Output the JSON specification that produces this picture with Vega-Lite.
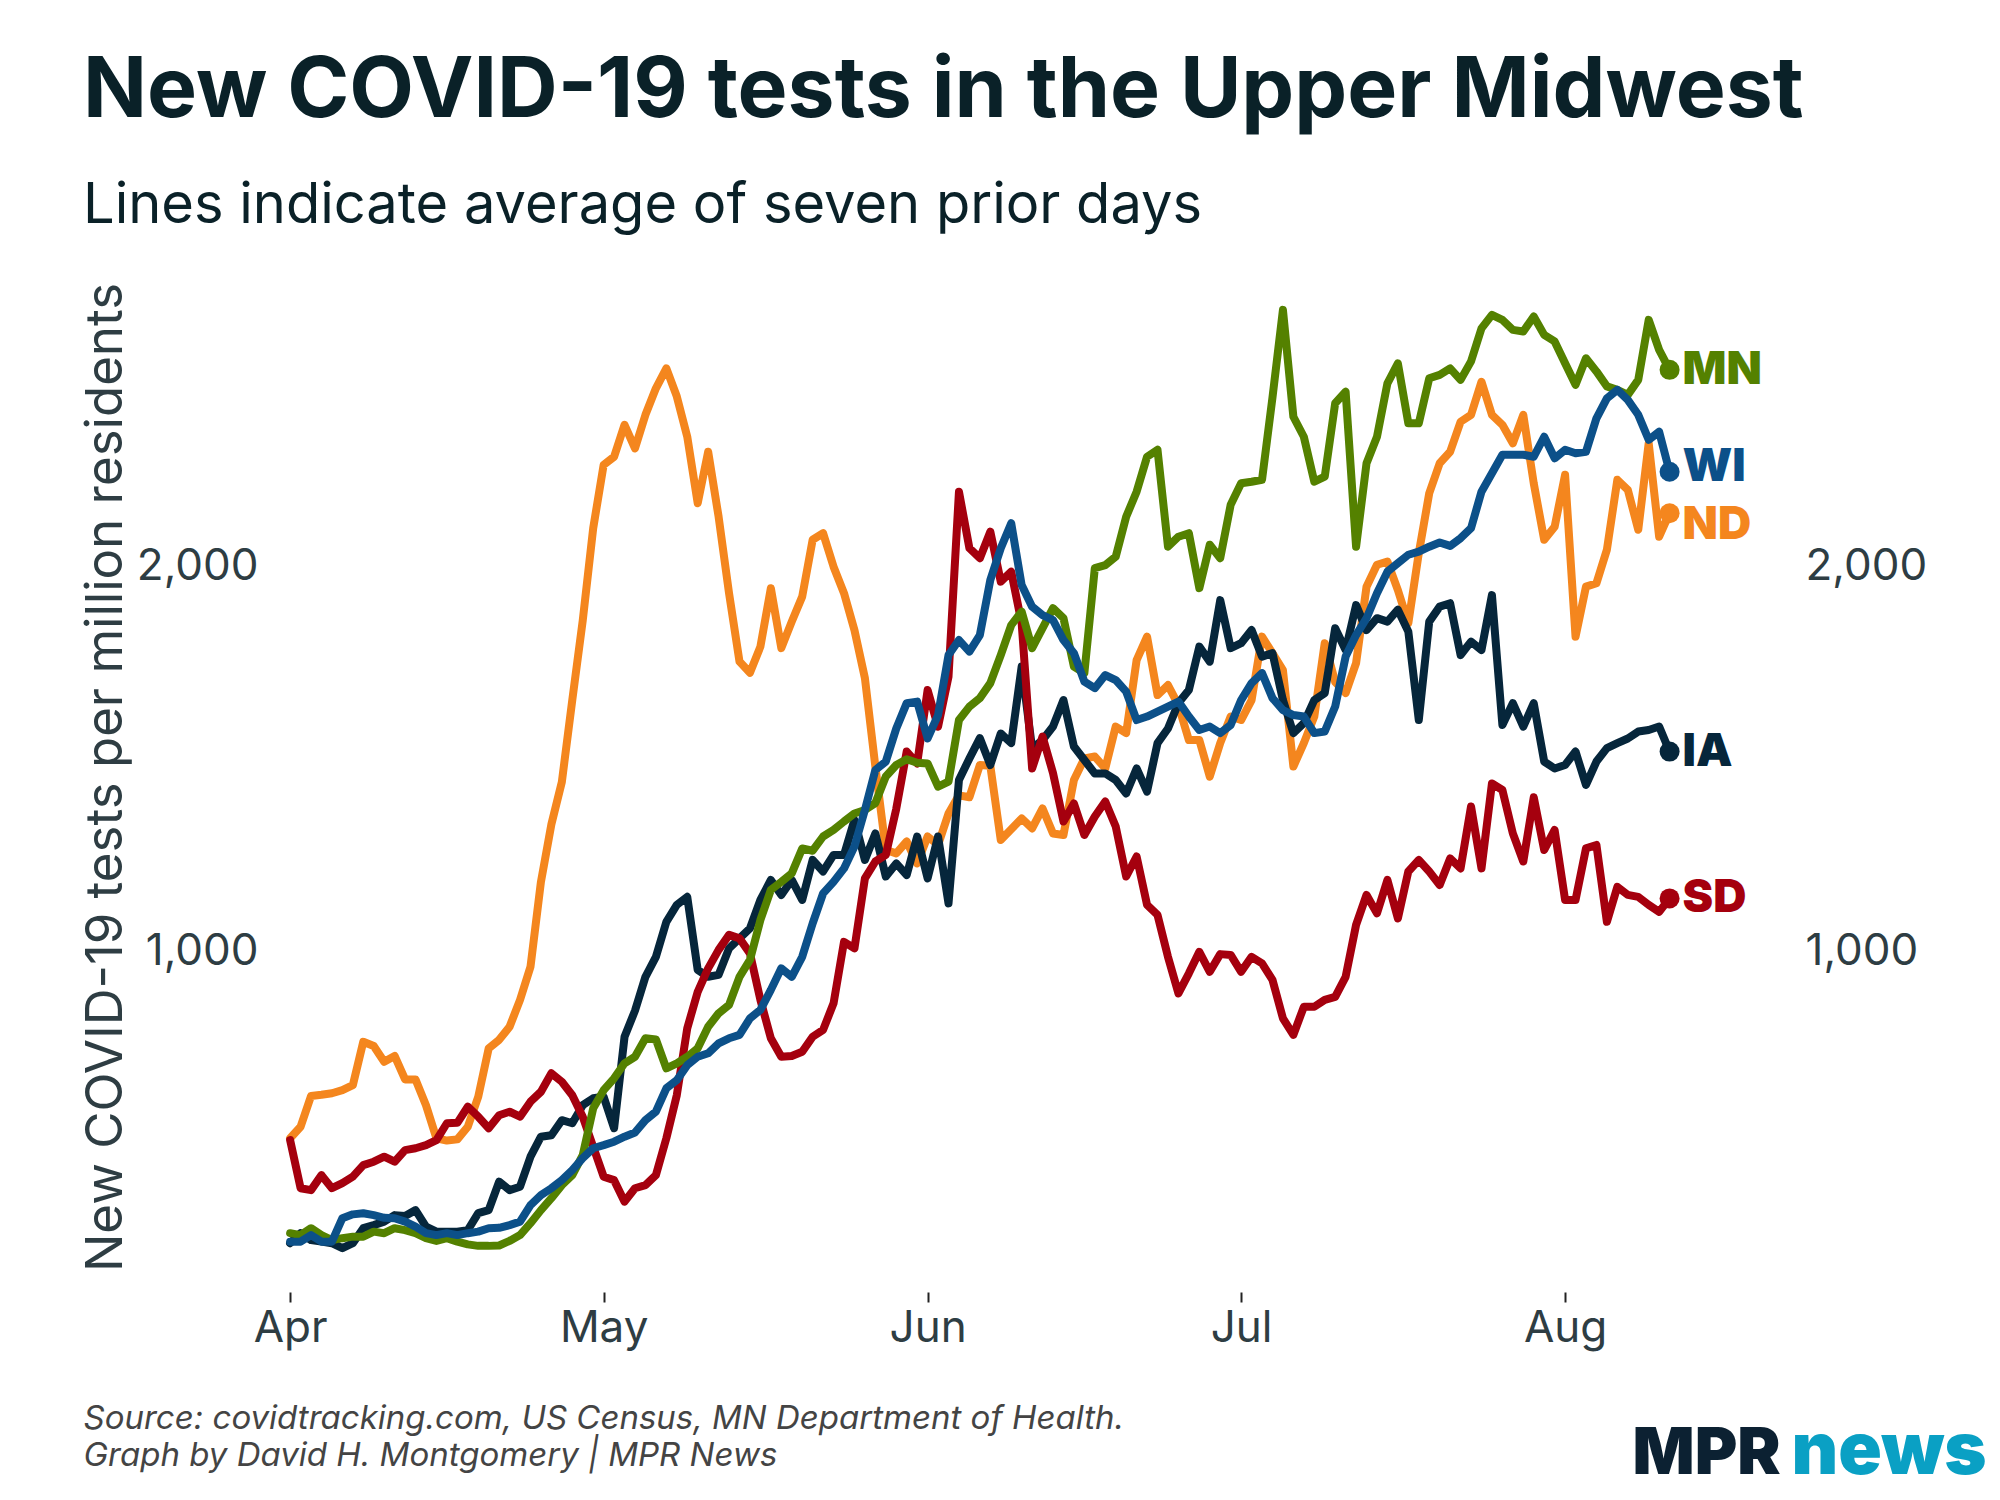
{
"$schema": "https://vega.github.io/schema/vega-lite/v6.json",
"width": 1531, "height": 1029,
"autosize": {"type": "none"},
"padding": {"left": 264, "top": 263, "right": 205, "bottom": 208},
"background": "white",
"config": {"view": {"stroke": null}, "font": "Inter", "axis": {"grid": false, "domain": false}},
"title": {"text": "New COVID-19 tests in the Upper Midwest", "subtitle": "Lines indicate average of seven prior days", "anchor": "start", "frame": "group", "dx": -181, "offset": 28, "font": "Inter", "fontSize": 84, "fontWeight": 700, "color": "#0a2128", "subtitleFont": "Inter", "subtitleFontSize": 56, "subtitleFontWeight": 400, "subtitleColor": "#0a2128", "subtitlePadding": 44},
"data": {"values": [
{"s":"ND","d":"2020-04-01","v":513},{"s":"ND","d":"2020-04-02","v":543},{"s":"ND","d":"2020-04-03","v":623},{"s":"ND","d":"2020-04-04","v":626},{"s":"ND","d":"2020-04-05","v":630},{"s":"ND","d":"2020-04-06","v":638},{"s":"ND","d":"2020-04-07","v":651},{"s":"ND","d":"2020-04-08","v":764},{"s":"ND","d":"2020-04-09","v":753},{"s":"ND","d":"2020-04-10","v":712},
{"s":"ND","d":"2020-04-11","v":727},{"s":"ND","d":"2020-04-12","v":666},{"s":"ND","d":"2020-04-13","v":666},{"s":"ND","d":"2020-04-14","v":599},{"s":"ND","d":"2020-04-15","v":513},{"s":"ND","d":"2020-04-16","v":507},{"s":"ND","d":"2020-04-17","v":510},{"s":"ND","d":"2020-04-18","v":543},{"s":"ND","d":"2020-04-19","v":621},{"s":"ND","d":"2020-04-20","v":747},
{"s":"ND","d":"2020-04-21","v":769},{"s":"ND","d":"2020-04-22","v":803},{"s":"ND","d":"2020-04-23","v":873},{"s":"ND","d":"2020-04-24","v":959},{"s":"ND","d":"2020-04-25","v":1180},{"s":"ND","d":"2020-04-26","v":1330},{"s":"ND","d":"2020-04-27","v":1440},{"s":"ND","d":"2020-04-28","v":1653},{"s":"ND","d":"2020-04-29","v":1860},{"s":"ND","d":"2020-04-30","v":2100},
{"s":"ND","d":"2020-05-01","v":2265},{"s":"ND","d":"2020-05-02","v":2286},{"s":"ND","d":"2020-05-03","v":2369},{"s":"ND","d":"2020-05-04","v":2308},{"s":"ND","d":"2020-05-05","v":2395},{"s":"ND","d":"2020-05-06","v":2464},{"s":"ND","d":"2020-05-07","v":2516},{"s":"ND","d":"2020-05-08","v":2443},{"s":"ND","d":"2020-05-09","v":2338},{"s":"ND","d":"2020-05-10","v":2165},
{"s":"ND","d":"2020-05-11","v":2299},{"s":"ND","d":"2020-05-12","v":2130},{"s":"ND","d":"2020-05-13","v":1931},{"s":"ND","d":"2020-05-14","v":1753},{"s":"ND","d":"2020-05-15","v":1724},{"s":"ND","d":"2020-05-16","v":1792},{"s":"ND","d":"2020-05-17","v":1944},{"s":"ND","d":"2020-05-18","v":1788},{"s":"ND","d":"2020-05-19","v":1857},{"s":"ND","d":"2020-05-20","v":1922},
{"s":"ND","d":"2020-05-21","v":2070},{"s":"ND","d":"2020-05-22","v":2087},{"s":"ND","d":"2020-05-23","v":2000},{"s":"ND","d":"2020-05-24","v":1931},{"s":"ND","d":"2020-05-25","v":1835},{"s":"ND","d":"2020-05-26","v":1710},{"s":"ND","d":"2020-05-27","v":1480},{"s":"ND","d":"2020-05-28","v":1263},{"s":"ND","d":"2020-05-29","v":1254},{"s":"ND","d":"2020-05-30","v":1285},
{"s":"ND","d":"2020-05-31","v":1228},{"s":"ND","d":"2020-06-01","v":1298},{"s":"ND","d":"2020-06-02","v":1276},{"s":"ND","d":"2020-06-03","v":1358},{"s":"ND","d":"2020-06-04","v":1405},{"s":"ND","d":"2020-06-05","v":1400},{"s":"ND","d":"2020-06-06","v":1484},{"s":"ND","d":"2020-06-07","v":1482},{"s":"ND","d":"2020-06-08","v":1289},{"s":"ND","d":"2020-06-09","v":1317},
{"s":"ND","d":"2020-06-10","v":1345},{"s":"ND","d":"2020-06-11","v":1319},{"s":"ND","d":"2020-06-12","v":1371},{"s":"ND","d":"2020-06-13","v":1306},{"s":"ND","d":"2020-06-14","v":1302},{"s":"ND","d":"2020-06-15","v":1445},{"s":"ND","d":"2020-06-16","v":1501},{"s":"ND","d":"2020-06-17","v":1506},{"s":"ND","d":"2020-06-18","v":1475},{"s":"ND","d":"2020-06-19","v":1584},
{"s":"ND","d":"2020-06-20","v":1567},{"s":"ND","d":"2020-06-21","v":1757},{"s":"ND","d":"2020-06-22","v":1818},{"s":"ND","d":"2020-06-23","v":1666},{"s":"ND","d":"2020-06-24","v":1692},{"s":"ND","d":"2020-06-25","v":1640},{"s":"ND","d":"2020-06-26","v":1549},{"s":"ND","d":"2020-06-27","v":1549},{"s":"ND","d":"2020-06-28","v":1454},{"s":"ND","d":"2020-06-29","v":1541},
{"s":"ND","d":"2020-06-30","v":1610},{"s":"ND","d":"2020-07-01","v":1601},{"s":"ND","d":"2020-07-02","v":1653},{"s":"ND","d":"2020-07-03","v":1818},{"s":"ND","d":"2020-07-04","v":1775},{"s":"ND","d":"2020-07-05","v":1731},{"s":"ND","d":"2020-07-06","v":1480},{"s":"ND","d":"2020-07-07","v":1541},{"s":"ND","d":"2020-07-08","v":1610},{"s":"ND","d":"2020-07-09","v":1801},
{"s":"ND","d":"2020-07-10","v":1700},{"s":"ND","d":"2020-07-11","v":1671},{"s":"ND","d":"2020-07-12","v":1749},{"s":"ND","d":"2020-07-13","v":1948},{"s":"ND","d":"2020-07-14","v":2005},{"s":"ND","d":"2020-07-15","v":2013},{"s":"ND","d":"2020-07-16","v":1939},{"s":"ND","d":"2020-07-17","v":1853},{"s":"ND","d":"2020-07-18","v":2035},{"s":"ND","d":"2020-07-19","v":2191},
{"s":"ND","d":"2020-07-20","v":2269},{"s":"ND","d":"2020-07-21","v":2299},{"s":"ND","d":"2020-07-22","v":2377},{"s":"ND","d":"2020-07-23","v":2395},{"s":"ND","d":"2020-07-24","v":2481},{"s":"ND","d":"2020-07-25","v":2395},{"s":"ND","d":"2020-07-26","v":2369},{"s":"ND","d":"2020-07-27","v":2321},{"s":"ND","d":"2020-07-28","v":2395},{"s":"ND","d":"2020-07-29","v":2217},
{"s":"ND","d":"2020-07-30","v":2070},{"s":"ND","d":"2020-07-31","v":2104},{"s":"ND","d":"2020-08-01","v":2239},{"s":"ND","d":"2020-08-02","v":1818},{"s":"ND","d":"2020-08-03","v":1948},{"s":"ND","d":"2020-08-04","v":1957},{"s":"ND","d":"2020-08-05","v":2044},{"s":"ND","d":"2020-08-06","v":2226},{"s":"ND","d":"2020-08-07","v":2200},{"s":"ND","d":"2020-08-08","v":2096},
{"s":"ND","d":"2020-08-09","v":2321},{"s":"ND","d":"2020-08-10","v":2078},{"s":"ND","d":"2020-08-11","v":2139},
{"s":"IA","d":"2020-04-01","v":240},{"s":"IA","d":"2020-04-02","v":266},{"s":"IA","d":"2020-04-03","v":248},{"s":"IA","d":"2020-04-04","v":244},{"s":"IA","d":"2020-04-05","v":240},{"s":"IA","d":"2020-04-06","v":227},{"s":"IA","d":"2020-04-07","v":240},{"s":"IA","d":"2020-04-08","v":279},{"s":"IA","d":"2020-04-09","v":287},{"s":"IA","d":"2020-04-10","v":296},
{"s":"IA","d":"2020-04-11","v":313},{"s":"IA","d":"2020-04-12","v":311},{"s":"IA","d":"2020-04-13","v":326},{"s":"IA","d":"2020-04-14","v":283},{"s":"IA","d":"2020-04-15","v":270},{"s":"IA","d":"2020-04-16","v":270},{"s":"IA","d":"2020-04-17","v":270},{"s":"IA","d":"2020-04-18","v":274},{"s":"IA","d":"2020-04-19","v":318},{"s":"IA","d":"2020-04-20","v":326},
{"s":"IA","d":"2020-04-21","v":400},{"s":"IA","d":"2020-04-22","v":378},{"s":"IA","d":"2020-04-23","v":387},{"s":"IA","d":"2020-04-24","v":465},{"s":"IA","d":"2020-04-25","v":517},{"s":"IA","d":"2020-04-26","v":521},{"s":"IA","d":"2020-04-27","v":560},{"s":"IA","d":"2020-04-28","v":552},{"s":"IA","d":"2020-04-29","v":599},{"s":"IA","d":"2020-04-30","v":617},
{"s":"IA","d":"2020-05-01","v":621},{"s":"IA","d":"2020-05-02","v":539},{"s":"IA","d":"2020-05-03","v":777},{"s":"IA","d":"2020-05-04","v":845},{"s":"IA","d":"2020-05-05","v":933},{"s":"IA","d":"2020-05-06","v":985},{"s":"IA","d":"2020-05-07","v":1076},{"s":"IA","d":"2020-05-08","v":1120},{"s":"IA","d":"2020-05-09","v":1141},{"s":"IA","d":"2020-05-10","v":951},
{"s":"IA","d":"2020-05-11","v":933},{"s":"IA","d":"2020-05-12","v":938},{"s":"IA","d":"2020-05-13","v":1007},{"s":"IA","d":"2020-05-14","v":1033},{"s":"IA","d":"2020-05-15","v":1059},{"s":"IA","d":"2020-05-16","v":1133},{"s":"IA","d":"2020-05-17","v":1185},{"s":"IA","d":"2020-05-18","v":1146},{"s":"IA","d":"2020-05-19","v":1185},{"s":"IA","d":"2020-05-20","v":1133},
{"s":"IA","d":"2020-05-21","v":1237},{"s":"IA","d":"2020-05-22","v":1207},{"s":"IA","d":"2020-05-23","v":1250},{"s":"IA","d":"2020-05-24","v":1250},{"s":"IA","d":"2020-05-25","v":1341},{"s":"IA","d":"2020-05-26","v":1237},{"s":"IA","d":"2020-05-27","v":1306},{"s":"IA","d":"2020-05-28","v":1194},{"s":"IA","d":"2020-05-29","v":1228},{"s":"IA","d":"2020-05-30","v":1198},
{"s":"IA","d":"2020-05-31","v":1298},{"s":"IA","d":"2020-06-01","v":1189},{"s":"IA","d":"2020-06-02","v":1298},{"s":"IA","d":"2020-06-03","v":1124},{"s":"IA","d":"2020-06-04","v":1445},{"s":"IA","d":"2020-06-05","v":1501},{"s":"IA","d":"2020-06-06","v":1554},{"s":"IA","d":"2020-06-07","v":1484},{"s":"IA","d":"2020-06-08","v":1566},{"s":"IA","d":"2020-06-09","v":1541},
{"s":"IA","d":"2020-06-10","v":1740},{"s":"IA","d":"2020-06-11","v":1527},{"s":"IA","d":"2020-06-12","v":1549},{"s":"IA","d":"2020-06-13","v":1584},{"s":"IA","d":"2020-06-14","v":1653},{"s":"IA","d":"2020-06-15","v":1532},{"s":"IA","d":"2020-06-16","v":1497},{"s":"IA","d":"2020-06-17","v":1462},{"s":"IA","d":"2020-06-18","v":1462},{"s":"IA","d":"2020-06-19","v":1445},
{"s":"IA","d":"2020-06-20","v":1410},{"s":"IA","d":"2020-06-21","v":1475},{"s":"IA","d":"2020-06-22","v":1415},{"s":"IA","d":"2020-06-23","v":1541},{"s":"IA","d":"2020-06-24","v":1579},{"s":"IA","d":"2020-06-25","v":1645},{"s":"IA","d":"2020-06-26","v":1679},{"s":"IA","d":"2020-06-27","v":1792},{"s":"IA","d":"2020-06-28","v":1753},{"s":"IA","d":"2020-06-29","v":1913},
{"s":"IA","d":"2020-06-30","v":1788},{"s":"IA","d":"2020-07-01","v":1801},{"s":"IA","d":"2020-07-02","v":1835},{"s":"IA","d":"2020-07-03","v":1766},{"s":"IA","d":"2020-07-04","v":1775},{"s":"IA","d":"2020-07-05","v":1653},{"s":"IA","d":"2020-07-06","v":1567},{"s":"IA","d":"2020-07-07","v":1593},{"s":"IA","d":"2020-07-08","v":1653},{"s":"IA","d":"2020-07-09","v":1671},
{"s":"IA","d":"2020-07-10","v":1840},{"s":"IA","d":"2020-07-11","v":1783},{"s":"IA","d":"2020-07-12","v":1900},{"s":"IA","d":"2020-07-13","v":1835},{"s":"IA","d":"2020-07-14","v":1866},{"s":"IA","d":"2020-07-15","v":1857},{"s":"IA","d":"2020-07-16","v":1888},{"s":"IA","d":"2020-07-17","v":1831},{"s":"IA","d":"2020-07-18","v":1601},{"s":"IA","d":"2020-07-19","v":1857},
{"s":"IA","d":"2020-07-20","v":1896},{"s":"IA","d":"2020-07-21","v":1905},{"s":"IA","d":"2020-07-22","v":1770},{"s":"IA","d":"2020-07-23","v":1805},{"s":"IA","d":"2020-07-24","v":1783},{"s":"IA","d":"2020-07-25","v":1926},{"s":"IA","d":"2020-07-26","v":1588},{"s":"IA","d":"2020-07-27","v":1645},{"s":"IA","d":"2020-07-28","v":1584},{"s":"IA","d":"2020-07-29","v":1645},
{"s":"IA","d":"2020-07-30","v":1493},{"s":"IA","d":"2020-07-31","v":1475},{"s":"IA","d":"2020-08-01","v":1484},{"s":"IA","d":"2020-08-02","v":1519},{"s":"IA","d":"2020-08-03","v":1432},{"s":"IA","d":"2020-08-04","v":1493},{"s":"IA","d":"2020-08-05","v":1528},{"s":"IA","d":"2020-08-06","v":1541},{"s":"IA","d":"2020-08-07","v":1553},{"s":"IA","d":"2020-08-08","v":1571},
{"s":"IA","d":"2020-08-09","v":1575},{"s":"IA","d":"2020-08-10","v":1584},{"s":"IA","d":"2020-08-11","v":1519},
{"s":"SD","d":"2020-04-01","v":508},{"s":"SD","d":"2020-04-02","v":383},{"s":"SD","d":"2020-04-03","v":378},{"s":"SD","d":"2020-04-04","v":417},{"s":"SD","d":"2020-04-05","v":383},{"s":"SD","d":"2020-04-06","v":396},{"s":"SD","d":"2020-04-07","v":413},{"s":"SD","d":"2020-04-08","v":443},{"s":"SD","d":"2020-04-09","v":452},{"s":"SD","d":"2020-04-10","v":465},
{"s":"SD","d":"2020-04-11","v":452},{"s":"SD","d":"2020-04-12","v":482},{"s":"SD","d":"2020-04-13","v":487},{"s":"SD","d":"2020-04-14","v":495},{"s":"SD","d":"2020-04-15","v":508},{"s":"SD","d":"2020-04-16","v":552},{"s":"SD","d":"2020-04-17","v":553},{"s":"SD","d":"2020-04-18","v":595},{"s":"SD","d":"2020-04-19","v":569},{"s":"SD","d":"2020-04-20","v":539},
{"s":"SD","d":"2020-04-21","v":573},{"s":"SD","d":"2020-04-22","v":582},{"s":"SD","d":"2020-04-23","v":569},{"s":"SD","d":"2020-04-24","v":608},{"s":"SD","d":"2020-04-25","v":634},{"s":"SD","d":"2020-04-26","v":682},{"s":"SD","d":"2020-04-27","v":660},{"s":"SD","d":"2020-04-28","v":625},{"s":"SD","d":"2020-04-29","v":569},{"s":"SD","d":"2020-04-30","v":491},
{"s":"SD","d":"2020-05-01","v":413},{"s":"SD","d":"2020-05-02","v":404},{"s":"SD","d":"2020-05-03","v":348},{"s":"SD","d":"2020-05-04","v":383},{"s":"SD","d":"2020-05-05","v":391},{"s":"SD","d":"2020-05-06","v":417},{"s":"SD","d":"2020-05-07","v":513},{"s":"SD","d":"2020-05-08","v":625},{"s":"SD","d":"2020-05-09","v":799},{"s":"SD","d":"2020-05-10","v":894},
{"s":"SD","d":"2020-05-11","v":955},{"s":"SD","d":"2020-05-12","v":1003},{"s":"SD","d":"2020-05-13","v":1042},{"s":"SD","d":"2020-05-14","v":1033},{"s":"SD","d":"2020-05-15","v":994},{"s":"SD","d":"2020-05-16","v":873},{"s":"SD","d":"2020-05-17","v":773},{"s":"SD","d":"2020-05-18","v":725},{"s":"SD","d":"2020-05-19","v":727},{"s":"SD","d":"2020-05-20","v":738},
{"s":"SD","d":"2020-05-21","v":777},{"s":"SD","d":"2020-05-22","v":795},{"s":"SD","d":"2020-05-23","v":864},{"s":"SD","d":"2020-05-24","v":1024},{"s":"SD","d":"2020-05-25","v":1007},{"s":"SD","d":"2020-05-26","v":1189},{"s":"SD","d":"2020-05-27","v":1233},{"s":"SD","d":"2020-05-28","v":1250},{"s":"SD","d":"2020-05-29","v":1370},{"s":"SD","d":"2020-05-30","v":1519},
{"s":"SD","d":"2020-05-31","v":1488},{"s":"SD","d":"2020-06-01","v":1679},{"s":"SD","d":"2020-06-02","v":1584},{"s":"SD","d":"2020-06-03","v":1714},{"s":"SD","d":"2020-06-04","v":2195},{"s":"SD","d":"2020-06-05","v":2048},{"s":"SD","d":"2020-06-06","v":2022},{"s":"SD","d":"2020-06-07","v":2091},{"s":"SD","d":"2020-06-08","v":1961},{"s":"SD","d":"2020-06-09","v":1987},
{"s":"SD","d":"2020-06-10","v":1853},{"s":"SD","d":"2020-06-11","v":1475},{"s":"SD","d":"2020-06-12","v":1558},{"s":"SD","d":"2020-06-13","v":1463},{"s":"SD","d":"2020-06-14","v":1337},{"s":"SD","d":"2020-06-15","v":1384},{"s":"SD","d":"2020-06-16","v":1302},{"s":"SD","d":"2020-06-17","v":1350},{"s":"SD","d":"2020-06-18","v":1389},{"s":"SD","d":"2020-06-19","v":1324},
{"s":"SD","d":"2020-06-20","v":1194},{"s":"SD","d":"2020-06-21","v":1246},{"s":"SD","d":"2020-06-22","v":1120},{"s":"SD","d":"2020-06-23","v":1094},{"s":"SD","d":"2020-06-24","v":985},{"s":"SD","d":"2020-06-25","v":890},{"s":"SD","d":"2020-06-26","v":942},{"s":"SD","d":"2020-06-27","v":998},{"s":"SD","d":"2020-06-28","v":946},{"s":"SD","d":"2020-06-29","v":992},
{"s":"SD","d":"2020-06-30","v":990},{"s":"SD","d":"2020-07-01","v":946},{"s":"SD","d":"2020-07-02","v":985},{"s":"SD","d":"2020-07-03","v":968},{"s":"SD","d":"2020-07-04","v":925},{"s":"SD","d":"2020-07-05","v":825},{"s":"SD","d":"2020-07-06","v":782},{"s":"SD","d":"2020-07-07","v":855},{"s":"SD","d":"2020-07-08","v":855},{"s":"SD","d":"2020-07-09","v":873},
{"s":"SD","d":"2020-07-10","v":881},{"s":"SD","d":"2020-07-11","v":933},{"s":"SD","d":"2020-07-12","v":1068},{"s":"SD","d":"2020-07-13","v":1146},{"s":"SD","d":"2020-07-14","v":1098},{"s":"SD","d":"2020-07-15","v":1185},{"s":"SD","d":"2020-07-16","v":1085},{"s":"SD","d":"2020-07-17","v":1207},{"s":"SD","d":"2020-07-18","v":1237},{"s":"SD","d":"2020-07-19","v":1207},
{"s":"SD","d":"2020-07-20","v":1172},{"s":"SD","d":"2020-07-21","v":1241},{"s":"SD","d":"2020-07-22","v":1215},{"s":"SD","d":"2020-07-23","v":1376},{"s":"SD","d":"2020-07-24","v":1215},{"s":"SD","d":"2020-07-25","v":1436},{"s":"SD","d":"2020-07-26","v":1419},{"s":"SD","d":"2020-07-27","v":1306},{"s":"SD","d":"2020-07-28","v":1233},{"s":"SD","d":"2020-07-29","v":1400},
{"s":"SD","d":"2020-07-30","v":1263},{"s":"SD","d":"2020-07-31","v":1315},{"s":"SD","d":"2020-08-01","v":1133},{"s":"SD","d":"2020-08-02","v":1133},{"s":"SD","d":"2020-08-03","v":1267},{"s":"SD","d":"2020-08-04","v":1276},{"s":"SD","d":"2020-08-05","v":1076},{"s":"SD","d":"2020-08-06","v":1167},{"s":"SD","d":"2020-08-07","v":1146},{"s":"SD","d":"2020-08-08","v":1141},
{"s":"SD","d":"2020-08-09","v":1120},{"s":"SD","d":"2020-08-10","v":1102},{"s":"SD","d":"2020-08-11","v":1137},
{"s":"MN","d":"2020-04-01","v":266},{"s":"MN","d":"2020-04-02","v":261},{"s":"MN","d":"2020-04-03","v":279},{"s":"MN","d":"2020-04-04","v":261},{"s":"MN","d":"2020-04-05","v":248},{"s":"MN","d":"2020-04-06","v":253},{"s":"MN","d":"2020-04-07","v":257},{"s":"MN","d":"2020-04-08","v":257},{"s":"MN","d":"2020-04-09","v":270},{"s":"MN","d":"2020-04-10","v":266},
{"s":"MN","d":"2020-04-11","v":279},{"s":"MN","d":"2020-04-12","v":274},{"s":"MN","d":"2020-04-13","v":266},{"s":"MN","d":"2020-04-14","v":253},{"s":"MN","d":"2020-04-15","v":246},{"s":"MN","d":"2020-04-16","v":253},{"s":"MN","d":"2020-04-17","v":244},{"s":"MN","d":"2020-04-18","v":237},{"s":"MN","d":"2020-04-19","v":233},{"s":"MN","d":"2020-04-20","v":233},
{"s":"MN","d":"2020-04-21","v":234},{"s":"MN","d":"2020-04-22","v":246},{"s":"MN","d":"2020-04-23","v":261},{"s":"MN","d":"2020-04-24","v":292},{"s":"MN","d":"2020-04-25","v":326},{"s":"MN","d":"2020-04-26","v":357},{"s":"MN","d":"2020-04-27","v":391},{"s":"MN","d":"2020-04-28","v":417},{"s":"MN","d":"2020-04-29","v":469},{"s":"MN","d":"2020-04-30","v":591},
{"s":"MN","d":"2020-05-01","v":638},{"s":"MN","d":"2020-05-02","v":669},{"s":"MN","d":"2020-05-03","v":708},{"s":"MN","d":"2020-05-04","v":725},{"s":"MN","d":"2020-05-05","v":773},{"s":"MN","d":"2020-05-06","v":770},{"s":"MN","d":"2020-05-07","v":695},{"s":"MN","d":"2020-05-08","v":708},{"s":"MN","d":"2020-05-09","v":725},{"s":"MN","d":"2020-05-10","v":747},
{"s":"MN","d":"2020-05-11","v":803},{"s":"MN","d":"2020-05-12","v":838},{"s":"MN","d":"2020-05-13","v":860},{"s":"MN","d":"2020-05-14","v":933},{"s":"MN","d":"2020-05-15","v":977},{"s":"MN","d":"2020-05-16","v":1081},{"s":"MN","d":"2020-05-17","v":1159},{"s":"MN","d":"2020-05-18","v":1180},{"s":"MN","d":"2020-05-19","v":1202},{"s":"MN","d":"2020-05-20","v":1267},
{"s":"MN","d":"2020-05-21","v":1261},{"s":"MN","d":"2020-05-22","v":1298},{"s":"MN","d":"2020-05-23","v":1315},{"s":"MN","d":"2020-05-24","v":1337},{"s":"MN","d":"2020-05-25","v":1358},{"s":"MN","d":"2020-05-26","v":1367},{"s":"MN","d":"2020-05-27","v":1385},{"s":"MN","d":"2020-05-28","v":1454},{"s":"MN","d":"2020-05-29","v":1484},{"s":"MN","d":"2020-05-30","v":1499},
{"s":"MN","d":"2020-05-31","v":1490},{"s":"MN","d":"2020-06-01","v":1488},{"s":"MN","d":"2020-06-02","v":1428},{"s":"MN","d":"2020-06-03","v":1441},{"s":"MN","d":"2020-06-04","v":1601},{"s":"MN","d":"2020-06-05","v":1636},{"s":"MN","d":"2020-06-06","v":1658},{"s":"MN","d":"2020-06-07","v":1697},{"s":"MN","d":"2020-06-08","v":1770},{"s":"MN","d":"2020-06-09","v":1848},
{"s":"MN","d":"2020-06-10","v":1883},{"s":"MN","d":"2020-06-11","v":1788},{"s":"MN","d":"2020-06-12","v":1840},{"s":"MN","d":"2020-06-13","v":1892},{"s":"MN","d":"2020-06-14","v":1866},{"s":"MN","d":"2020-06-15","v":1740},{"s":"MN","d":"2020-06-16","v":1723},{"s":"MN","d":"2020-06-17","v":1996},{"s":"MN","d":"2020-06-18","v":2004},{"s":"MN","d":"2020-06-19","v":2026},
{"s":"MN","d":"2020-06-20","v":2130},{"s":"MN","d":"2020-06-21","v":2195},{"s":"MN","d":"2020-06-22","v":2286},{"s":"MN","d":"2020-06-23","v":2304},{"s":"MN","d":"2020-06-24","v":2052},{"s":"MN","d":"2020-06-25","v":2078},{"s":"MN","d":"2020-06-26","v":2087},{"s":"MN","d":"2020-06-27","v":1944},{"s":"MN","d":"2020-06-28","v":2057},{"s":"MN","d":"2020-06-29","v":2022},
{"s":"MN","d":"2020-06-30","v":2161},{"s":"MN","d":"2020-07-01","v":2217},{"s":"MN","d":"2020-07-02","v":2221},{"s":"MN","d":"2020-07-03","v":2226},{"s":"MN","d":"2020-07-04","v":2440},{"s":"MN","d":"2020-07-05","v":2668},{"s":"MN","d":"2020-07-06","v":2390},{"s":"MN","d":"2020-07-07","v":2338},{"s":"MN","d":"2020-07-08","v":2221},{"s":"MN","d":"2020-07-09","v":2234},
{"s":"MN","d":"2020-07-10","v":2425},{"s":"MN","d":"2020-07-11","v":2455},{"s":"MN","d":"2020-07-12","v":2052},{"s":"MN","d":"2020-07-13","v":2269},{"s":"MN","d":"2020-07-14","v":2338},{"s":"MN","d":"2020-07-15","v":2477},{"s":"MN","d":"2020-07-16","v":2529},{"s":"MN","d":"2020-07-17","v":2373},{"s":"MN","d":"2020-07-18","v":2373},{"s":"MN","d":"2020-07-19","v":2490},
{"s":"MN","d":"2020-07-20","v":2499},{"s":"MN","d":"2020-07-21","v":2516},{"s":"MN","d":"2020-07-22","v":2486},{"s":"MN","d":"2020-07-23","v":2534},{"s":"MN","d":"2020-07-24","v":2620},{"s":"MN","d":"2020-07-25","v":2655},{"s":"MN","d":"2020-07-26","v":2642},{"s":"MN","d":"2020-07-27","v":2616},{"s":"MN","d":"2020-07-28","v":2612},{"s":"MN","d":"2020-07-29","v":2651},
{"s":"MN","d":"2020-07-30","v":2603},{"s":"MN","d":"2020-07-31","v":2586},{"s":"MN","d":"2020-08-01","v":2529},{"s":"MN","d":"2020-08-02","v":2473},{"s":"MN","d":"2020-08-03","v":2542},{"s":"MN","d":"2020-08-04","v":2508},{"s":"MN","d":"2020-08-05","v":2469},{"s":"MN","d":"2020-08-06","v":2460},{"s":"MN","d":"2020-08-07","v":2447},{"s":"MN","d":"2020-08-08","v":2486},
{"s":"MN","d":"2020-08-09","v":2642},{"s":"MN","d":"2020-08-10","v":2564},{"s":"MN","d":"2020-08-11","v":2512},
{"s":"WI","d":"2020-04-01","v":244},{"s":"WI","d":"2020-04-02","v":244},{"s":"WI","d":"2020-04-03","v":261},{"s":"WI","d":"2020-04-04","v":244},{"s":"WI","d":"2020-04-05","v":244},{"s":"WI","d":"2020-04-06","v":305},{"s":"WI","d":"2020-04-07","v":315},{"s":"WI","d":"2020-04-08","v":318},{"s":"WI","d":"2020-04-09","v":313},{"s":"WI","d":"2020-04-10","v":306},
{"s":"WI","d":"2020-04-11","v":305},{"s":"WI","d":"2020-04-12","v":296},{"s":"WI","d":"2020-04-13","v":283},{"s":"WI","d":"2020-04-14","v":266},{"s":"WI","d":"2020-04-15","v":261},{"s":"WI","d":"2020-04-16","v":266},{"s":"WI","d":"2020-04-17","v":261},{"s":"WI","d":"2020-04-18","v":266},{"s":"WI","d":"2020-04-19","v":270},{"s":"WI","d":"2020-04-20","v":279},
{"s":"WI","d":"2020-04-21","v":280},{"s":"WI","d":"2020-04-22","v":287},{"s":"WI","d":"2020-04-23","v":296},{"s":"WI","d":"2020-04-24","v":339},{"s":"WI","d":"2020-04-25","v":365},{"s":"WI","d":"2020-04-26","v":383},{"s":"WI","d":"2020-04-27","v":404},{"s":"WI","d":"2020-04-28","v":430},{"s":"WI","d":"2020-04-29","v":461},{"s":"WI","d":"2020-04-30","v":487},
{"s":"WI","d":"2020-05-01","v":495},{"s":"WI","d":"2020-05-02","v":504},{"s":"WI","d":"2020-05-03","v":517},{"s":"WI","d":"2020-05-04","v":528},{"s":"WI","d":"2020-05-05","v":560},{"s":"WI","d":"2020-05-06","v":582},{"s":"WI","d":"2020-05-07","v":643},{"s":"WI","d":"2020-05-08","v":664},{"s":"WI","d":"2020-05-09","v":703},{"s":"WI","d":"2020-05-10","v":725},
{"s":"WI","d":"2020-05-11","v":734},{"s":"WI","d":"2020-05-12","v":760},{"s":"WI","d":"2020-05-13","v":773},{"s":"WI","d":"2020-05-14","v":782},{"s":"WI","d":"2020-05-15","v":825},{"s":"WI","d":"2020-05-16","v":847},{"s":"WI","d":"2020-05-17","v":899},{"s":"WI","d":"2020-05-18","v":955},{"s":"WI","d":"2020-05-19","v":933},{"s":"WI","d":"2020-05-20","v":985},
{"s":"WI","d":"2020-05-21","v":1072},{"s":"WI","d":"2020-05-22","v":1150},{"s":"WI","d":"2020-05-23","v":1180},{"s":"WI","d":"2020-05-24","v":1215},{"s":"WI","d":"2020-05-25","v":1272},{"s":"WI","d":"2020-05-26","v":1367},{"s":"WI","d":"2020-05-27","v":1471},{"s":"WI","d":"2020-05-28","v":1493},{"s":"WI","d":"2020-05-29","v":1579},{"s":"WI","d":"2020-05-30","v":1645},
{"s":"WI","d":"2020-05-31","v":1649},{"s":"WI","d":"2020-06-01","v":1553},{"s":"WI","d":"2020-06-02","v":1614},{"s":"WI","d":"2020-06-03","v":1770},{"s":"WI","d":"2020-06-04","v":1809},{"s":"WI","d":"2020-06-05","v":1779},{"s":"WI","d":"2020-06-06","v":1822},{"s":"WI","d":"2020-06-07","v":1965},{"s":"WI","d":"2020-06-08","v":2048},{"s":"WI","d":"2020-06-09","v":2113},
{"s":"WI","d":"2020-06-10","v":1952},{"s":"WI","d":"2020-06-11","v":1896},{"s":"WI","d":"2020-06-12","v":1874},{"s":"WI","d":"2020-06-13","v":1861},{"s":"WI","d":"2020-06-14","v":1809},{"s":"WI","d":"2020-06-15","v":1775},{"s":"WI","d":"2020-06-16","v":1701},{"s":"WI","d":"2020-06-17","v":1684},{"s":"WI","d":"2020-06-18","v":1718},{"s":"WI","d":"2020-06-19","v":1705},
{"s":"WI","d":"2020-06-20","v":1675},{"s":"WI","d":"2020-06-21","v":1601},{"s":"WI","d":"2020-06-22","v":1610},{"s":"WI","d":"2020-06-23","v":1623},{"s":"WI","d":"2020-06-24","v":1636},{"s":"WI","d":"2020-06-25","v":1649},{"s":"WI","d":"2020-06-26","v":1610},{"s":"WI","d":"2020-06-27","v":1575},{"s":"WI","d":"2020-06-28","v":1584},{"s":"WI","d":"2020-06-29","v":1567},
{"s":"WI","d":"2020-06-30","v":1588},{"s":"WI","d":"2020-07-01","v":1653},{"s":"WI","d":"2020-07-02","v":1697},{"s":"WI","d":"2020-07-03","v":1723},{"s":"WI","d":"2020-07-04","v":1658},{"s":"WI","d":"2020-07-05","v":1627},{"s":"WI","d":"2020-07-06","v":1614},{"s":"WI","d":"2020-07-07","v":1610},{"s":"WI","d":"2020-07-08","v":1567},{"s":"WI","d":"2020-07-09","v":1571},
{"s":"WI","d":"2020-07-10","v":1636},{"s":"WI","d":"2020-07-11","v":1766},{"s":"WI","d":"2020-07-12","v":1822},{"s":"WI","d":"2020-07-13","v":1866},{"s":"WI","d":"2020-07-14","v":1931},{"s":"WI","d":"2020-07-15","v":1987},{"s":"WI","d":"2020-07-16","v":2009},{"s":"WI","d":"2020-07-17","v":2031},{"s":"WI","d":"2020-07-18","v":2039},{"s":"WI","d":"2020-07-19","v":2052},
{"s":"WI","d":"2020-07-20","v":2063},{"s":"WI","d":"2020-07-21","v":2054},{"s":"WI","d":"2020-07-22","v":2074},{"s":"WI","d":"2020-07-23","v":2100},{"s":"WI","d":"2020-07-24","v":2195},{"s":"WI","d":"2020-07-25","v":2243},{"s":"WI","d":"2020-07-26","v":2291},{"s":"WI","d":"2020-07-27","v":2291},{"s":"WI","d":"2020-07-28","v":2291},{"s":"WI","d":"2020-07-29","v":2286},
{"s":"WI","d":"2020-07-30","v":2338},{"s":"WI","d":"2020-07-31","v":2282},{"s":"WI","d":"2020-08-01","v":2304},{"s":"WI","d":"2020-08-02","v":2295},{"s":"WI","d":"2020-08-03","v":2299},{"s":"WI","d":"2020-08-04","v":2386},{"s":"WI","d":"2020-08-05","v":2438},{"s":"WI","d":"2020-08-06","v":2460},{"s":"WI","d":"2020-08-07","v":2434},{"s":"WI","d":"2020-08-08","v":2395},
{"s":"WI","d":"2020-08-09","v":2330},{"s":"WI","d":"2020-08-10","v":2351},{"s":"WI","d":"2020-08-11","v":2247}
], "format": {"parse": {"d": "utc:'%Y-%m-%d'"}}},
"layer": [
{"mark": {"type": "line", "strokeWidth": 8, "strokeJoin": "round", "strokeCap": "round"},
 "encoding": {
  "x": {"field": "d", "type": "temporal",
        "scale": {"type": "utc", "domain": [{"year": 2020, "month": "mar", "date": 29, "hours": 12, "utc": true}, {"year": 2020, "month": "aug", "date": 23, "utc": true}]},
        "axis": {"orient": "bottom", "format": "%b", "values": [{"year": 2020, "month": "apr", "date": 1, "utc": true}, {"year": 2020, "month": "may", "date": 1, "utc": true}, {"year": 2020, "month": "jun", "date": 1, "utc": true}, {"year": 2020, "month": "jul", "date": 1, "utc": true}, {"year": 2020, "month": "aug", "date": 1, "utc": true}],
                 "ticks": true, "tickSize": 10, "tickWidth": 2, "tickColor": "#222222", "labelPadding": 4, "labelFont": "Inter", "labelFontSize": 44, "labelColor": "#2e3d43",
                 "title": ["Source: covidtracking.com, US Census, MN Department of Health.", "Graph by David H. Montgomery | MPR News"],
                 "titleFont": "Inter", "titleFontSize": 33, "titleFontWeight": 400, "titleFontStyle": "italic", "titleColor": "#444444", "titleAnchor": "start", "titleAlign": "left", "titleBaseline": "alphabetic", "titleX": -181, "titleY": 136, "titleLineHeight": 37}},
  "y": {"field": "v", "type": "quantitative",
        "scale": {"domain": [113, 2790], "nice": false, "zero": false},
        "axis": {"orient": "left", "values": [1000, 2000], "format": ",.0f", "ticks": false, "tickSize": 0, "labelPadding": 6, "labelFont": "Inter", "labelFontSize": 44, "labelColor": "#2e3d43",
                 "title": "New COVID-19 tests per million residents", "titleFont": "Inter", "titleFontSize": 51, "titleFontWeight": 400, "titleColor": "#2e3d43", "titleAngle": -90, "titleBaseline": "alphabetic", "titleAlign": "center", "titleX": -143, "titleY": 514}},
  "color": {"field": "s", "type": "nominal", "scale": {"domain": ["MN", "WI", "ND", "IA", "SD"], "range": ["#548100", "#0c5089", "#f4861e", "#06263b", "#a5000e"]}, "legend": null}
 }},
{"transform": [{"filter": "utcmonth(datum.d) == 7 && utcdate(datum.d) == 11"}],
 "mark": {"type": "circle", "size": 400, "opacity": 1},
 "encoding": {
  "x": {"field": "d", "type": "temporal", "axis": null},
  "y": {"field": "v", "type": "quantitative",
        "axis": {"orient": "right", "values": [1000, 2000], "format": ",.0f", "ticks": false, "tickSize": 0, "labelPadding": 10, "labelFont": "Inter", "labelFontSize": 44, "labelColor": "#2e3d43",
                 "title": "MPR", "titleFont": "Inter", "titleFontSize": 65, "titleFontWeight": 900, "titleColor": "#0c2132", "titleAngle": 0, "titleAlign": "left", "titleBaseline": "alphabetic", "titleX": -163, "titleY": 1210}},
  "color": {"field": "s", "type": "nominal", "legend": null}
 }},
{"transform": [{"filter": "utcmonth(datum.d) == 7 && utcdate(datum.d) == 11 && indexof(['MN','IA','SD'], datum.s) >= 0"}],
 "mark": {"type": "text", "align": "left", "baseline": "middle", "dx": 13, "font": "Inter", "fontSize": 46, "fontWeight": 900},
 "encoding": {
  "x": {"field": "d", "type": "temporal",
        "axis": {"orient": "top", "labels": false, "ticks": false, "domain": false,
                 "title": "news", "titleFont": "Inter", "titleFontSize": 72, "titleFontWeight": 900, "titleColor": "#0aa0c4", "titleAngle": 0, "titleAlign": "left", "titleBaseline": "alphabetic", "titleX": 1527, "titleY": 1210}},
  "y": {"field": "v", "type": "quantitative", "axis": null},
  "text": {"field": "s"},
  "color": {"field": "s", "type": "nominal", "legend": null}
 }},
{"transform": [{"filter": "utcmonth(datum.d) == 7 && utcdate(datum.d) == 11 && datum.s == 'WI'"}],
 "mark": {"type": "text", "align": "left", "baseline": "middle", "dx": 13, "dy": -5, "font": "Inter", "fontSize": 46, "fontWeight": 900},
 "encoding": {
  "x": {"field": "d", "type": "temporal", "axis": null},
  "y": {"field": "v", "type": "quantitative", "axis": null},
  "text": {"field": "s"},
  "color": {"field": "s", "type": "nominal", "legend": null}
 }},
{"transform": [{"filter": "utcmonth(datum.d) == 7 && utcdate(datum.d) == 11 && datum.s == 'ND'"}],
 "mark": {"type": "text", "align": "left", "baseline": "middle", "dx": 13, "dy": 12, "font": "Inter", "fontSize": 46, "fontWeight": 900},
 "encoding": {
  "x": {"field": "d", "type": "temporal", "axis": null},
  "y": {"field": "v", "type": "quantitative", "axis": null},
  "text": {"field": "s"},
  "color": {"field": "s", "type": "nominal", "legend": null}
 }}
],
"resolve": {"axis": {"x": "independent", "y": "independent"}}
}
